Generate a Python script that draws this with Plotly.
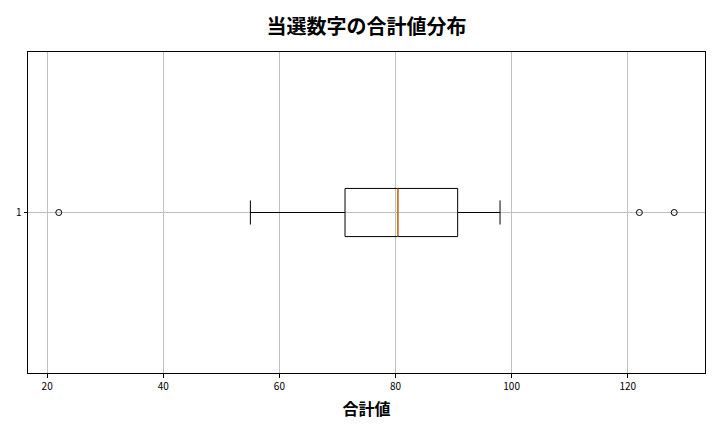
import plotly.graph_objects as go

# box statistics
q1 = [71.3]
median = [80.4]
q3 = [90.7]
lower_fence = [55]
upper_fence = [98]
outliers = [22, 122, 128]
box_pos = 1
box_width = 0.15

fig = go.Figure()

fig.add_trace(go.Box(
    y=[box_pos], q1=q1, median=median, q3=q3,
    lowerfence=lower_fence, upperfence=upper_fence,
    orientation="h", width=box_width, whiskerwidth=0.5,
    fillcolor="rgba(0,0,0,0)", line=dict(color="black", width=1),
    boxpoints=False, hoverinfo="x",
))

# orange median line like matplotlib
fig.add_trace(go.Scatter(
    x=[median[0], median[0]],
    y=[box_pos - box_width / 2, box_pos + box_width / 2],
    mode="lines", line=dict(color="#ff7f0e", width=1.2),
    hoverinfo="skip",
))

# outliers
fig.add_trace(go.Scatter(
    x=outliers, y=[box_pos] * len(outliers), mode="markers",
    marker=dict(symbol="circle-open", color="black", size=6, line=dict(width=1)),
))

axis_style = dict(
    showline=True, linecolor="black", linewidth=1, mirror=True,
    showgrid=True, gridcolor="#c0c0c0", gridwidth=1,
    ticks="outside", ticklen=3.5, tickcolor="black",
    tickfont=dict(size=10, color="black"), zeroline=False,
)

fig.update_layout(
    width=720, height=432,
    margin=dict(l=28, r=15, t=52, b=59),
    plot_bgcolor="white", paper_bgcolor="white",
    font=dict(family="Noto Sans CJK JP", color="black"),
    showlegend=False,
    title=dict(text="<b>当選数字の合計値分布</b>", xref="paper", x=0.5, xanchor="center",
               y=0.938, yanchor="middle", font=dict(size=20)),
)
fig.update_xaxes(axis_style, range=[16.7, 133.3], dtick=20,
                 title=dict(text="<b>合計値</b>", font=dict(size=16), standoff=12))
fig.update_yaxes(axis_style, range=[0.5, 1.5], tickvals=[1], ticktext=["1"])

fig.write_html("out.html", config={"displayModeBar": False},
               post_script="document.body.style.margin='0';")
